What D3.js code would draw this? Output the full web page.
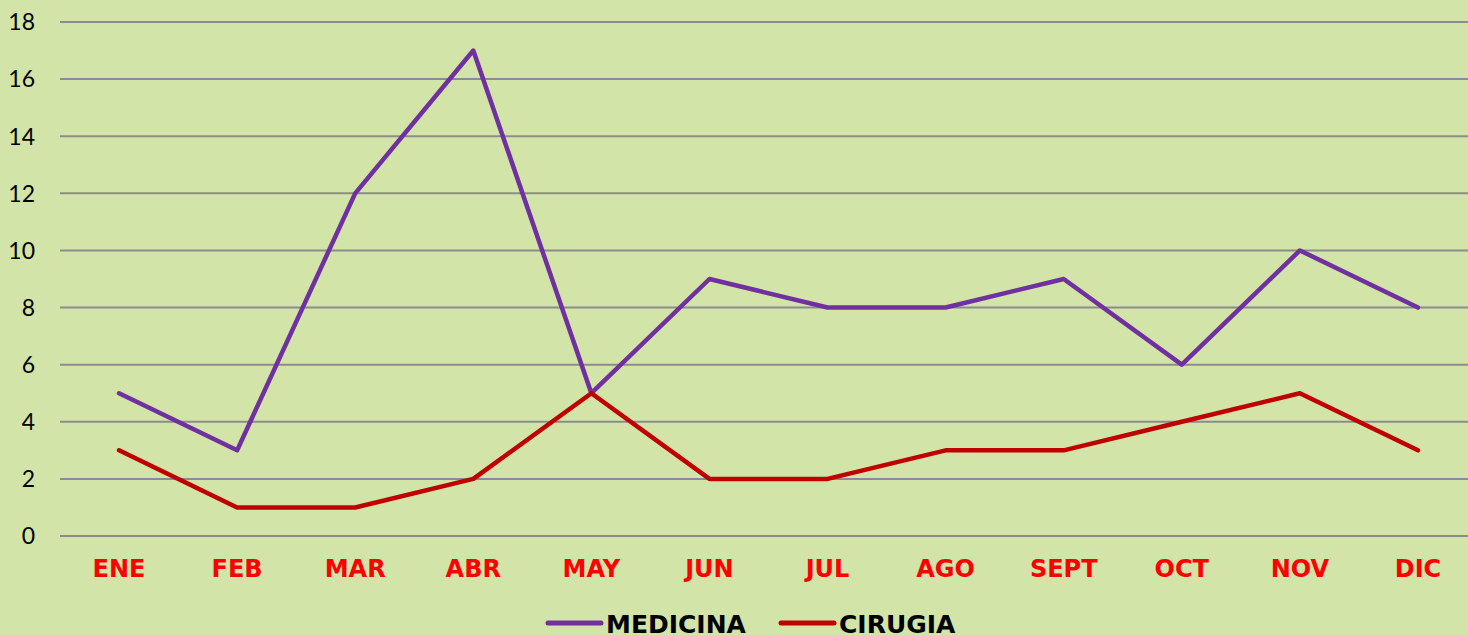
<!DOCTYPE html>
<html>
<head>
<meta charset="utf-8">
<script src="https://cdn.jsdelivr.net/npm/d3@7"></script>
<style>
  body { margin: 0; background: #d2e4a8; overflow: hidden; }
</style>
</head>
<body>
<div id="chart"></div>
<script>
// data
var months = ["ENE", "FEB", "MAR", "ABR", "MAY", "JUN", "JUL", "AGO", "SEPT", "OCT", "NOV", "DIC"];
var medicina = [5, 3, 12, 17, 5, 9, 8, 8, 9, 6, 10, 8];
var cirugia = [3, 1, 1, 2, 5, 2, 2, 3, 3, 4, 5, 3];
var yTicks = [0, 2, 4, 6, 8, 10, 12, 14, 16, 18];
var seriesNames = ["MEDICINA", "CIRUGIA"];
var seriesColors = ["#7030a0", "#c00000"];

var width = 1468, height = 635;
var svg = d3.select("#chart").append("svg")
  .attr("width", width)
  .attr("height", height);

// scales
var x = d3.scaleBand().domain(months).range([60, 1477]);
var y = d3.scaleLinear().domain([0, 18]).range([536, 22]);

// grid lines
svg.append("g")
  .selectAll("line")
  .data(yTicks)
  .join("line")
  .attr("x1", 60)
  .attr("x2", width)
  .attr("y1", d => y(d))
  .attr("y2", d => y(d))
  .attr("stroke", "#8c8c8c")
  .attr("stroke-width", 2);

// y labels
svg.append("g")
  .selectAll("text")
  .data(yTicks)
  .join("text")
  .attr("x", 35)
  .attr("y", d => y(d))
  .attr("dy", "0.36em")
  .attr("text-anchor", "end")
  .attr("font-family", "Lato, sans-serif")
  .attr("font-size", 23)
  .attr("fill", "#000")
  .text(d => d);

// x labels
svg.append("g")
  .selectAll("text")
  .data(months)
  .join("text")
  .attr("x", d => x(d) + x.bandwidth() / 2)
  .attr("y", 577)
  .attr("text-anchor", "middle")
  .attr("font-family", "'DejaVu Sans', sans-serif")
  .attr("font-weight", "bold")
  .attr("font-size", 24)
  .attr("fill", "#ff0000")
  .text(d => d);

// lines
var line = d3.line()
  .x((d, i) => x(months[i]) + x.bandwidth() / 2)
  .y(d => y(d));

[medicina, cirugia].forEach(function (s, k) {
  svg.append("path")
    .datum(s)
    .attr("d", line)
    .attr("fill", "none")
    .attr("stroke", seriesColors[k])
    .attr("stroke-width", 4.5)
    .attr("stroke-linejoin", "round")
    .attr("stroke-linecap", "round");
});

// legend
var legendX = [548, 781];
seriesNames.forEach(function (n, k) {
  var g = svg.append("g").attr("transform", "translate(" + legendX[k] + ",623)");
  g.append("line")
    .attr("x1", 0).attr("x2", 53)
    .attr("stroke", seriesColors[k])
    .attr("stroke-width", 5)
    .attr("stroke-linecap", "round");
  g.append("text")
    .attr("x", 58)
    .attr("y", 10)
    .attr("font-family", "'DejaVu Sans', sans-serif")
    .attr("font-weight", "bold")
    .attr("font-size", 25)
    .attr("fill", "#000")
    .text(n);
});
</script>
</body>
</html>
